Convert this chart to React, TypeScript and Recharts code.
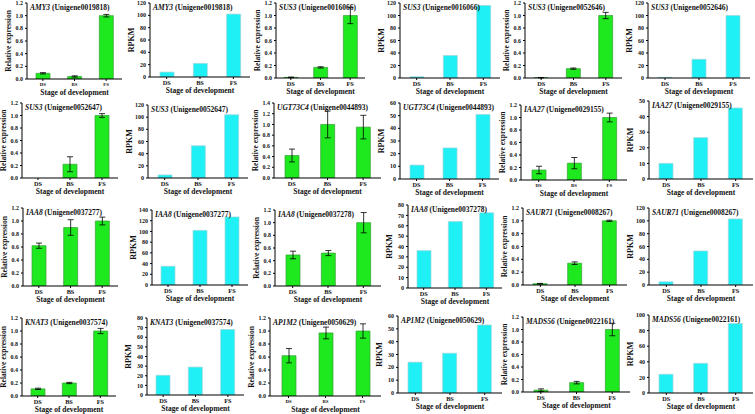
import React from 'react';
import { BarChart, Bar, XAxis, YAxis, ErrorBar } from 'recharts';

const stages = ['DS', 'BS', 'FS'];

// Row 1
const amy3Rel = [0.09, 0.04, 1.0];
const amy3RelErr = [0.01, 0.01, 0.02];
const amy3Rpkm = [8, 22, 102];
const sus3aRel = [0.01, 0.17, 1.0];
const sus3aRelErr = [0.005, 0.01, 0.13];
const sus3aRpkm = [2, 36, 116];
const sus3bRel = [0.005, 0.15, 1.0];
const sus3bRelErr = [0.003, 0.01, 0.05];
const sus3bRpkm = [1, 30, 100];
// Row 2
const sus3cRel = [0, 0.22, 1.0];
const sus3cRelErr = [0, 0.12, 0.03];
const sus3cRpkm = [5, 53, 104];
const ugtRel = [0.42, 1.0, 0.95];
const ugtRelErr = [0.12, 0.25, 0.22];
const ugtRpkm = [11, 24.5, 51];
const iaa27Rel = [0.16, 0.27, 1.0];
const iaa27RelErr = [0.06, 0.09, 0.07];
const iaa27Rpkm = [10, 26.5, 45.5];
// Row 3
const iaa8aRel = [0.62, 0.9, 1.0];
const iaa8aRelErr = [0.04, 0.12, 0.06];
const iaa8aRpkm = [35, 102, 127];
const iaa8bRel = [0.49, 0.52, 1.0];
const iaa8bRelErr = [0.06, 0.04, 0.16];
const iaa8bRpkm = [36, 64, 72.5];
const saurRel = [0.02, 0.34, 1.0];
const saurRelErr = [0.005, 0.02, 0.01];
const saurRpkm = [5, 53, 103];
// Row 4
const knat3Rel = [0.11, 0.2, 1.0];
const knat3RelErr = [0.01, 0.01, 0.04];
const knat3Rpkm = [20.5, 29, 68];
const ap1m2Rel = [0.62, 0.97, 1.0];
const ap1m2RelErr = [0.11, 0.09, 0.11];
const ap1m2Rpkm = [24, 31, 53];
const madsRel = [0.03, 0.15, 1.0];
const madsRelErr = [0.02, 0.02, 0.1];
const madsRpkm = [24, 38, 89];

const relTicks = [0, 0.2, 0.4, 0.6, 0.8, 1.0, 1.2];
const relTicks14 = [0, 0.2, 0.4, 0.6, 0.8, 1.0, 1.2, 1.4];
const rpkm120 = [0, 20, 40, 60, 80, 100, 120];
const rpkm140 = [0, 20, 40, 60, 80, 100, 120, 140];
const rpkm100 = [0, 20, 40, 60, 80, 100];
const rpkm80 = [0, 10, 20, 30, 40, 50, 60, 70, 80];
const rpkm60 = [0, 10, 20, 30, 40, 50, 60];
const rpkm50 = [0, 10, 20, 30, 40, 50];

const FONT = '"Liberation Serif", "Times New Roman", serif';
const GREEN = '#1ee81e';
const GREEN_STROKE = '#3a9e3a';
const CYAN = '#1ff0f5';
const CYAN_STROKE = '#9fd6da';

type P = {
  gene: string; id: string; rel: boolean;
  x0: number; x1: number; yTop: number; yBot: number;
  values: number[]; errors?: number[]; ticks: number[];
  smallX?: boolean; dec?: boolean;
};

const panels: P[] = [
  { gene: 'AMY3', id: 'Unigene0019818', rel: true, x0: 27, x1: 122, yTop: 3, yBot: 79, values: amy3Rel, errors: amy3RelErr, ticks: relTicks, smallX: true, dec: true },
  { gene: 'AMY3', id: 'Unigene0019818', rel: false, x0: 150, x1: 250, yTop: 3, yBot: 77, values: amy3Rpkm, ticks: rpkm120 },
  { gene: 'SUS3', id: 'Unigene0016066', rel: true, x0: 276, x1: 365, yTop: 3, yBot: 78, values: sus3aRel, errors: sus3aRelErr, ticks: relTicks, dec: true },
  { gene: 'SUS3', id: 'Unigene0016066', rel: false, x0: 400, x1: 500, yTop: 3, yBot: 78, values: sus3aRpkm, ticks: rpkm120 },
  { gene: 'SUS3', id: 'Unigene0052646', rel: true, x0: 525, x1: 622, yTop: 3, yBot: 78, values: sus3bRel, errors: sus3bRelErr, ticks: relTicks, dec: true },
  { gene: 'SUS3', id: 'Unigene0052646', rel: false, x0: 648, x1: 750, yTop: 3, yBot: 78, values: sus3bRpkm, ticks: rpkm120 },

  { gene: 'SUS3', id: 'Unigene0052647', rel: true, x0: 22, x1: 118, yTop: 103, yBot: 178, values: sus3cRel, errors: sus3cRelErr, ticks: relTicks, dec: true },
  { gene: 'SUS3', id: 'Unigene0052647', rel: false, x0: 148, x1: 248, yTop: 105, yBot: 178, values: sus3cRpkm, ticks: rpkm120 },
  { gene: 'UGT73C4', id: 'Unigene0044893', rel: true, x0: 274, x1: 381, yTop: 103, yBot: 178, values: ugtRel, errors: ugtRelErr, ticks: relTicks14, dec: true },
  { gene: 'UGT73C4', id: 'Unigene0044893', rel: false, x0: 400, x1: 499, yTop: 103, yBot: 179, values: ugtRpkm, ticks: rpkm60 },
  { gene: 'IAA27', id: 'Unigene0029155', rel: true, x0: 521, x1: 627, yTop: 105, yBot: 180, values: iaa27Rel, errors: iaa27RelErr, ticks: relTicks, smallX: true, dec: true },
  { gene: 'IAA27', id: 'Unigene0029155', rel: false, x0: 649, x1: 753, yTop: 101, yBot: 179, values: iaa27Rpkm, ticks: rpkm50 },

  { gene: 'IAA8', id: 'Unigene0037277', rel: true, x0: 23, x1: 118, yTop: 208, yBot: 286, values: iaa8aRel, errors: iaa8aRelErr, ticks: relTicks, dec: true },
  { gene: 'IAA8', id: 'Unigene0037277', rel: false, x0: 152, x1: 248, yTop: 210, yBot: 285, values: iaa8aRpkm, ticks: rpkm140 },
  { gene: 'IAA8', id: 'Unigene0037278', rel: true, x0: 275, x1: 381, yTop: 210, yBot: 286, values: iaa8bRel, errors: iaa8bRelErr, ticks: relTicks, dec: true },
  { gene: 'IAA8', id: 'Unigene0037278', rel: false, x0: 408, x1: 502, yTop: 205, yBot: 288, values: iaa8bRpkm, ticks: rpkm80 },
  { gene: 'SAUR71', id: 'Unigene0008267', rel: true, x0: 523, x1: 627, yTop: 208, yBot: 285, values: saurRel, errors: saurRelErr, ticks: relTicks, dec: true },
  { gene: 'SAUR71', id: 'Unigene0008267', rel: false, x0: 649, x1: 753, yTop: 208, yBot: 285, values: saurRpkm, ticks: rpkm120 },

  { gene: 'KNAT3', id: 'Unigene0037574', rel: true, x0: 22, x1: 116, yTop: 318, yBot: 396, values: knat3Rel, errors: knat3RelErr, ticks: relTicks, dec: true },
  { gene: 'KNAT3', id: 'Unigene0037574', rel: false, x0: 147, x1: 244, yTop: 318, yBot: 395, values: knat3Rpkm, ticks: rpkm80 },
  { gene: 'AP1M2', id: 'Unigene0050629', rel: true, x0: 270, x1: 381, yTop: 318, yBot: 396, values: ap1m2Rel, errors: ap1m2RelErr, ticks: relTicks, smallX: true, dec: true },
  { gene: 'AP1M2', id: 'Unigene0050629', rel: false, x0: 398, x1: 502, yTop: 316, yBot: 393, values: ap1m2Rpkm, ticks: rpkm60 },
  { gene: 'MADS56', id: 'Unigene0022161', rel: true, x0: 523, x1: 630, yTop: 317, yBot: 392, values: madsRel, errors: madsRelErr, ticks: relTicks, dec: true },
  { gene: 'MADS56', id: 'Unigene0022161', rel: false, x0: 649, x1: 753, yTop: 315, yBot: 393, values: madsRpkm, ticks: rpkm100 },
];

const YW = 30;
const XH = 19;
const MT = 7;
const MR = 3;

function Panel({ p }: { p: P }) {
  const width = p.x1 - p.x0 + YW + MR;
  const height = p.yBot - p.yTop + MT + XH;
  const data = stages.map((s, i) => ({
    stage: s,
    v: p.values[i],
    err: p.errors ? p.errors[i] : 0,
  }));
  const fill = p.rel ? GREEN : CYAN;
  const stroke = p.rel ? GREEN_STROKE : CYAN_STROKE;
  const yMax = p.ticks[p.ticks.length - 1];
  const yLabel = p.rel ? 'Relative expression' : 'RPKM';
  return (
    <div style={{ position: 'absolute', left: p.x0 - YW, top: p.yTop - MT, width, height }}>
      <BarChart
        width={width}
        height={height}
        data={data}
        margin={{ top: MT, right: MR, left: 0, bottom: 0 }}
        barCategoryGap="28%"
        style={{ overflow: 'visible' }}
      >
        <XAxis
          dataKey="stage"
          height={XH}
          interval={0}
          axisLine={{ stroke: '#000', strokeWidth: 1 }}
          tickLine={{ stroke: '#000' }}
          tickSize={2}
          tick={{ fontSize: p.smallX ? 4.8 : 6.3, fontWeight: 700, fontFamily: FONT, fill: '#111' }}
          label={{
            content: (props: any) => {
              const vb = props.viewBox || {};
              return (
                <text
                  x={vb.x + vb.width / 2}
                  y={vb.y + 16}
                  textAnchor="middle"
                  fontSize={7.5}
                  fontWeight={700}
                  fontFamily={FONT}
                  fill="#111"
                >
                  Stage of development
                </text>
              );
            },
          }}
        />
        <YAxis
          width={YW}
          domain={[0, yMax]}
          ticks={p.ticks}
          interval={0}
          allowDataOverflow
          axisLine={{ stroke: '#000', strokeWidth: 1 }}
          tickLine={{ stroke: '#000' }}
          tickSize={2}
          tickFormatter={(v: number) => (p.dec ? v.toFixed(1) : String(v))}
          tick={{ fontSize: 6, fontWeight: 700, fontFamily: FONT, fill: '#111' }}
          label={{
            content: (props: any) => {
              const vb = props.viewBox || {};
              const x = vb.x + 11;
              const y = vb.y + vb.height / 2;
              return (
                <text
                  x={x}
                  y={y}
                  transform={`rotate(-90 ${x} ${y})`}
                  textAnchor="middle"
                  dominantBaseline="central"
                  fontSize={p.rel ? 7.5 : 8}
                  fontWeight={700}
                  fontFamily={FONT}
                  fill="#111"
                >
                  {yLabel}
                </text>
              );
            },
          }}
        />
        <Bar dataKey="v" fill={fill} stroke={stroke} strokeWidth={0.7} barSize={14} isAnimationActive={false}>
          {p.errors ? <ErrorBar dataKey="err" width={3} stroke="#000" strokeWidth={0.8} /> : null}
        </Bar>
      </BarChart>
      <div
        style={{
          position: 'absolute',
          left: YW + 3,
          top: MT,
          fontFamily: FONT,
          fontSize: 7.5,
          fontWeight: 700,
          whiteSpace: 'nowrap',
          lineHeight: '9px',
          color: '#111',
        }}
      >
        <i>{p.gene}</i> ({p.id})
      </div>
    </div>
  );
}

export default function App() {
  return (
    <div style={{ position: 'absolute', left: 0, top: 0, width: 755, height: 414, background: '#fff', overflow: 'hidden' }}>
      {panels.map((p, i) => (
        <Panel key={i} p={p} />
      ))}
    </div>
  );
}
